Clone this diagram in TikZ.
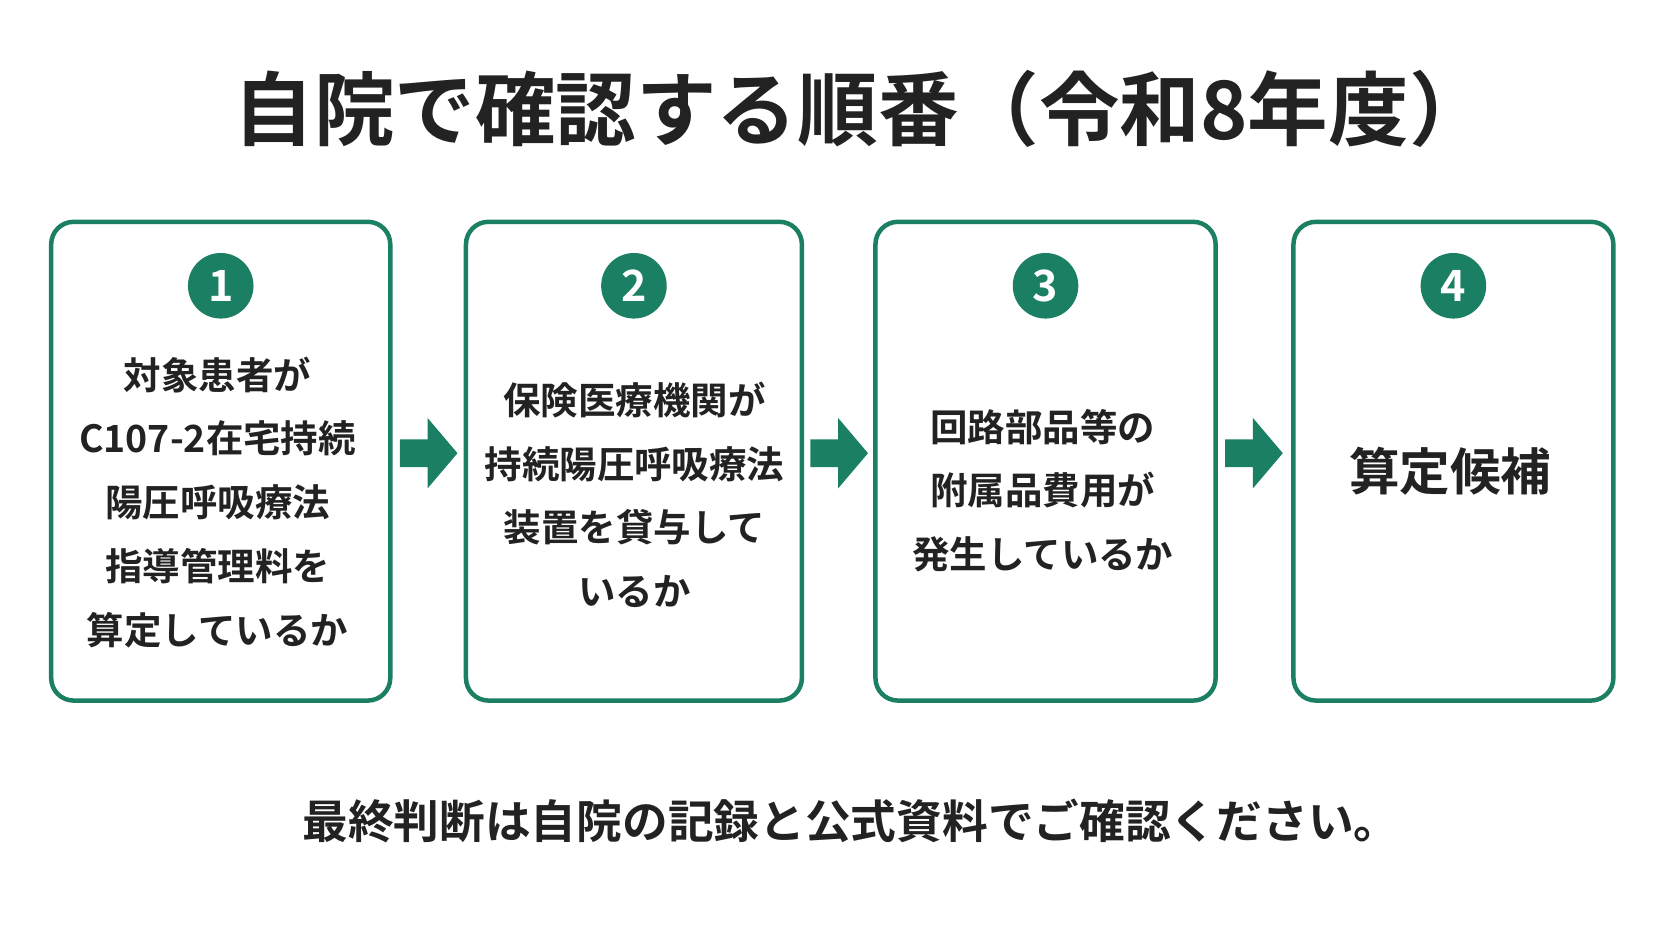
\documentclass[tikz,border=0pt]{standalone}
\usepackage{fontspec}
\setmainfont{Noto Sans CJK JP}[BoldFont={Noto Sans CJK JP Bold}]
\definecolor{gr}{HTML}{1B7F64}
\definecolor{tx}{HTML}{222222}
\begin{document}
\begin{tikzpicture}[x=0.02cm,y=-0.02cm,
 box/.style={draw=gr,line width=2.4pt,rounded corners=12pt,fill=white},
 num/.style={circle,fill=gr,text=white,minimum size=35pt,inner sep=0pt,font=\bfseries\fontsize{23}{23}\selectfont},
 lab/.style={align=center,text=tx,font=\bfseries\fontsize{20}{34}\selectfont},
 arr/.style={fill=gr}]
\useasboundingbox (0,0) rectangle (1568,882);
\node[text=tx,font=\bfseries\fontsize{43}{43}\selectfont] (title) at (808,102) {自院で確認する順番（令和8年度）};
\foreach \i/\a/\b in {1/48/366,2/437/752,3/821/1140,4/1213/1513}{
 \draw[box] (\a,208) rectangle (\b,657);
 \node[num] (n\i) at ({(\a+\b)/2},268) {\i};
}
\node[lab] (t1) at (204,471) {対象患者が\\C107-2在宅持続\\陽圧呼吸療法\\指導管理料を\\算定しているか};
\node[lab] (t2) at (595,464) {保険医療機関が\\持続陽圧呼吸療法\\装置を貸与して\\いるか};
\node[lab] (t3) at (978,460) {回路部品等の\\附属品費用が\\発生しているか};
\node[lab,font=\bfseries\fontsize{27}{27}\selectfont] (t4) at (1360,442) {算定候補};
\foreach \x in {375,760,1149}{
 \fill[arr] (\x,412) -- (\x+26,412) -- (\x+26,392) -- (\x+54,425) -- (\x+26,458) -- (\x+26,438) -- (\x,438) -- cycle;
}
\node[text=tx,font=\bfseries\fontsize{24.4}{24.4}\selectfont] (foot) at (798,770) {最終判断は自院の記録と公式資料でご確認ください。};
\end{tikzpicture}
\end{document}
